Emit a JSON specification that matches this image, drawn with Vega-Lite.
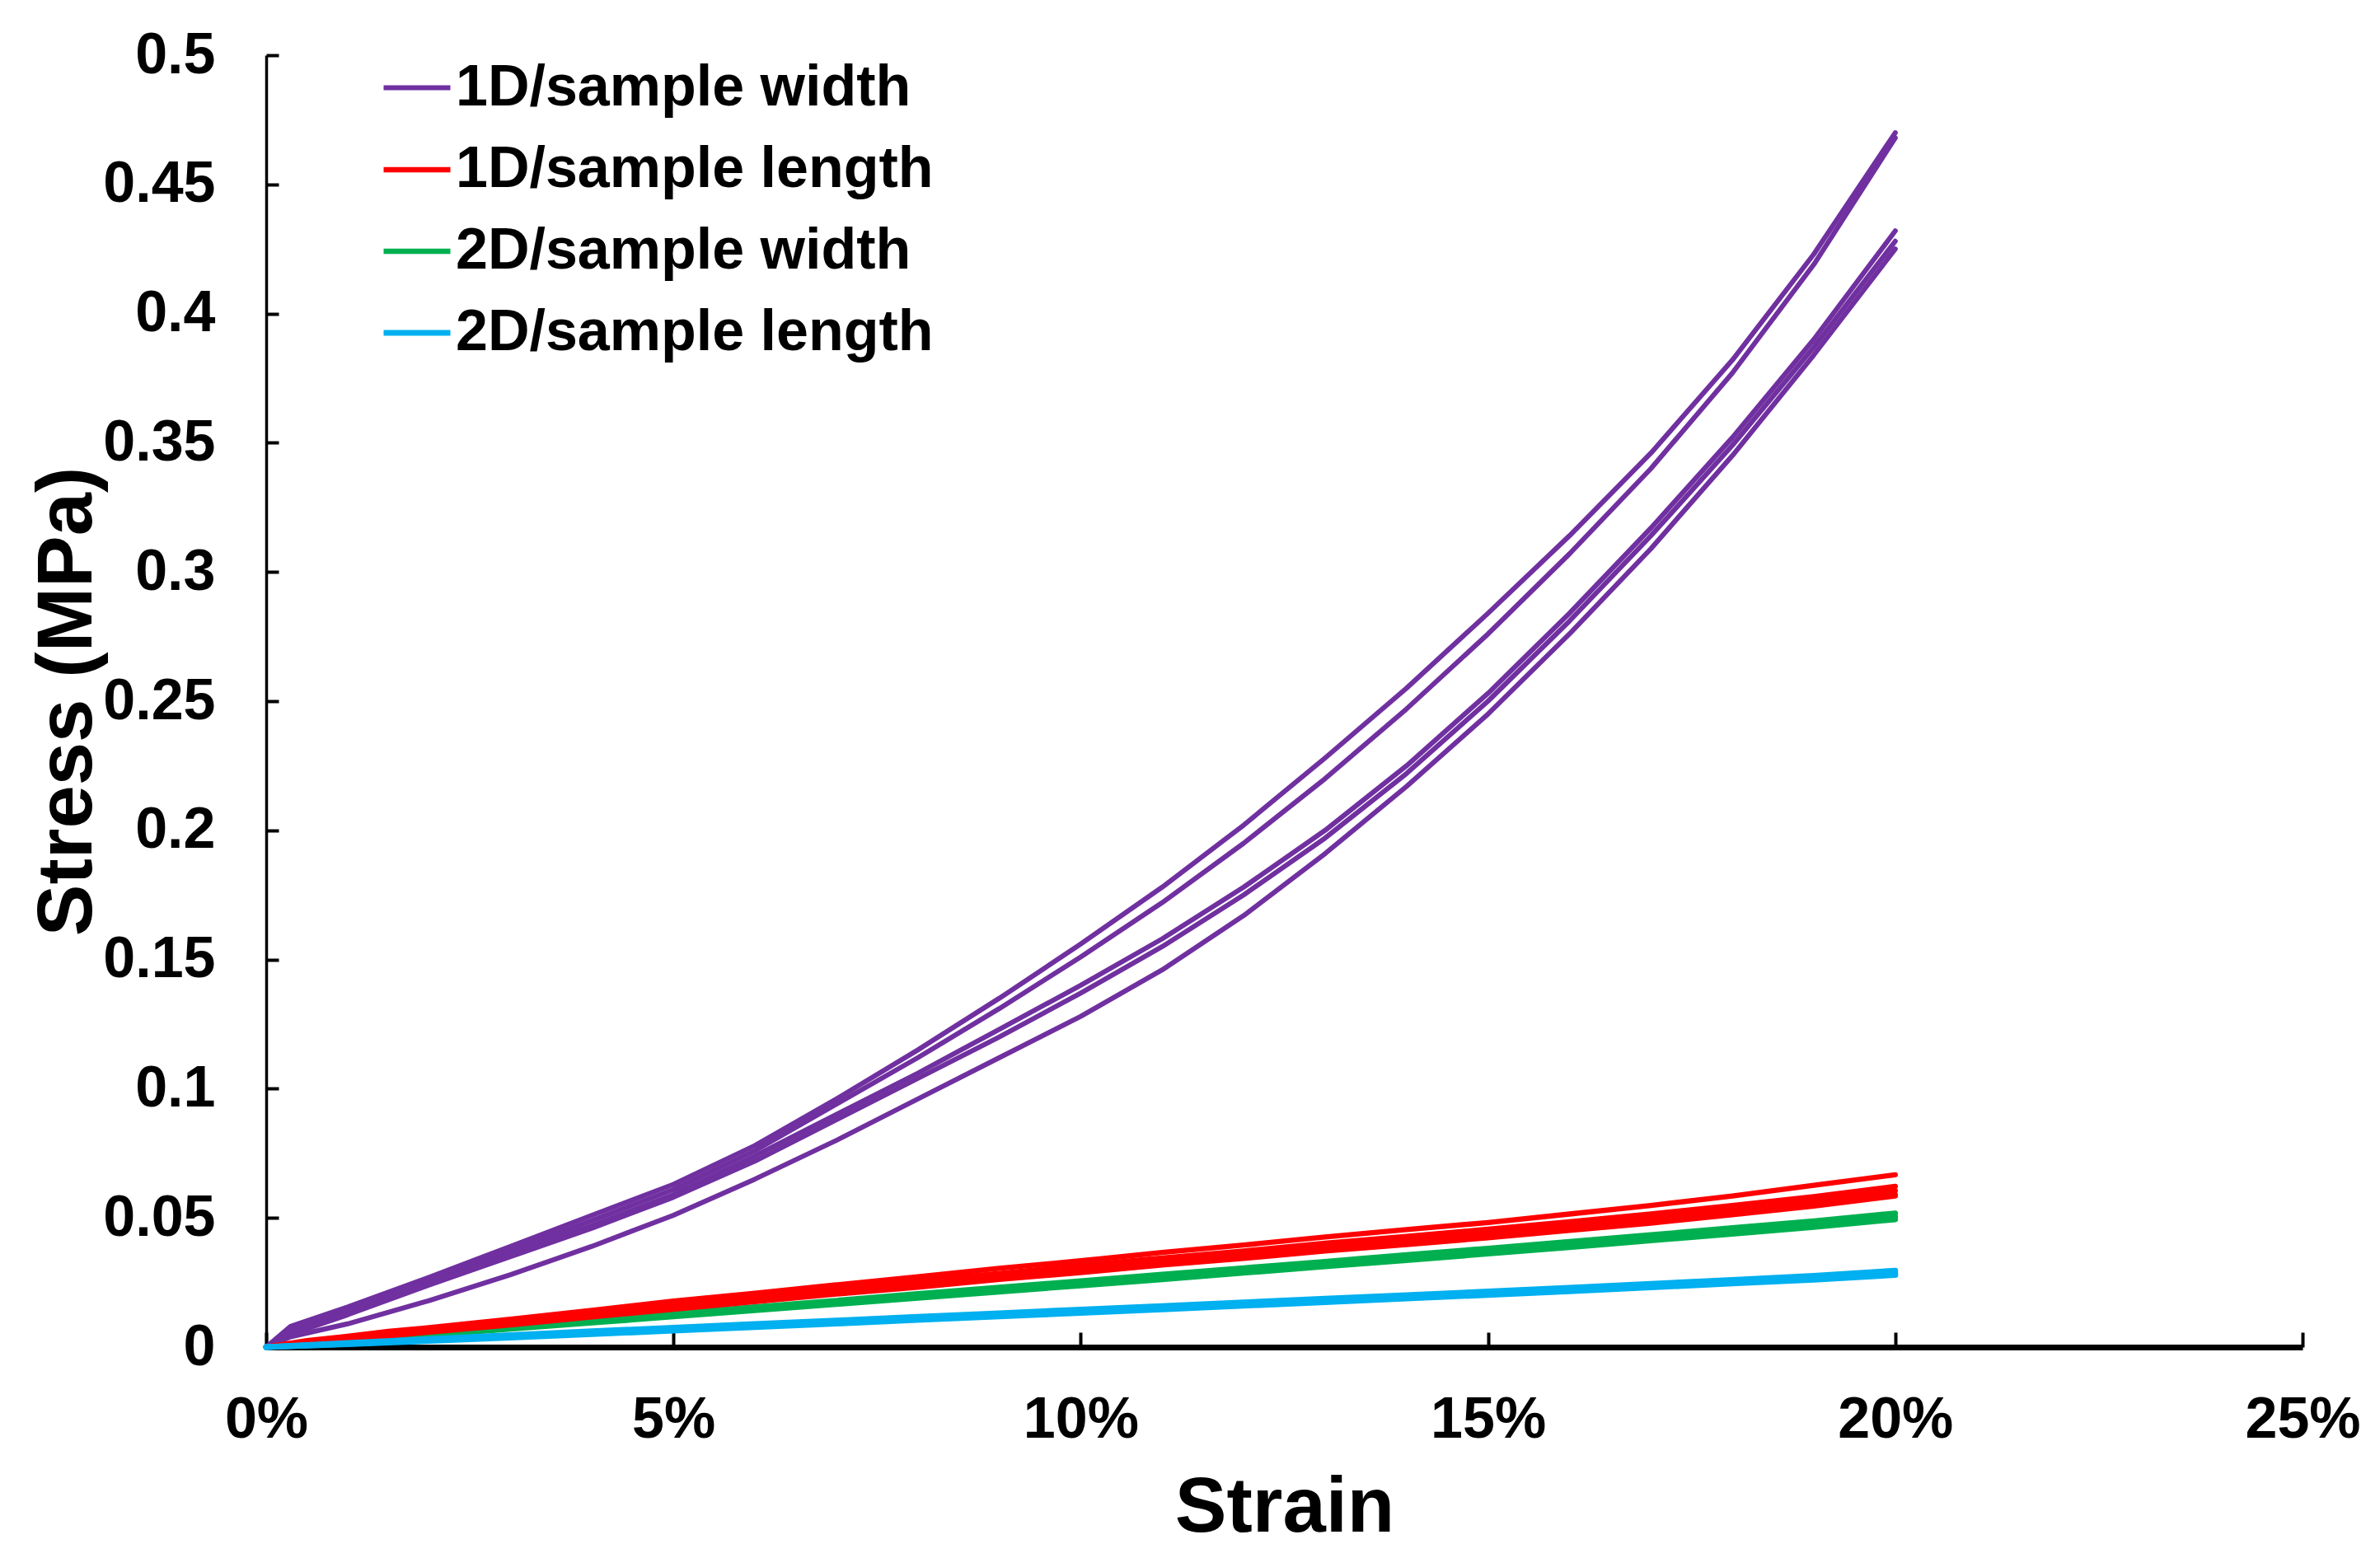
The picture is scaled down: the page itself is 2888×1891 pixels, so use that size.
{
  "$schema": "https://vega.github.io/schema/vega-lite/v6.json",
  "width": 2471,
  "height": 1568,
  "autosize": {"type": "none"},
  "padding": {"left": 323, "top": 67, "right": 94, "bottom": 256},
  "background": "white",
  "config": {"font": "Liberation Sans", "view": {"stroke": null}},
  "datasets": {
    "curves": [
      {"g":"1D/sample width","c":"P1","x":0,"y":0},{"g":"1D/sample width","c":"P1","x":0.003,"y":0.008},{"g":"1D/sample width","c":"P1","x":0.01,"y":0.0155},{"g":"1D/sample width","c":"P1","x":0.02,"y":0.027},{"g":"1D/sample width","c":"P1","x":0.03,"y":0.039},{"g":"1D/sample width","c":"P1","x":0.04,"y":0.051},{"g":"1D/sample width","c":"P1","x":0.05,"y":0.063},{"g":"1D/sample width","c":"P1","x":0.06,"y":0.078},{"g":"1D/sample width","c":"P1","x":0.07,"y":0.096},{"g":"1D/sample width","c":"P1","x":0.08,"y":0.115},{"g":"1D/sample width","c":"P1","x":0.09,"y":0.135},{"g":"1D/sample width","c":"P1","x":0.10,"y":0.156},{"g":"1D/sample width","c":"P1","x":0.11,"y":0.178},{"g":"1D/sample width","c":"P1","x":0.12,"y":0.202},{"g":"1D/sample width","c":"P1","x":0.13,"y":0.228},{"g":"1D/sample width","c":"P1","x":0.14,"y":0.255},{"g":"1D/sample width","c":"P1","x":0.15,"y":0.284},{"g":"1D/sample width","c":"P1","x":0.16,"y":0.314},{"g":"1D/sample width","c":"P1","x":0.17,"y":0.346},{"g":"1D/sample width","c":"P1","x":0.18,"y":0.382},{"g":"1D/sample width","c":"P1","x":0.19,"y":0.423},{"g":"1D/sample width","c":"P1","x":0.20,"y":0.470},
      {"g":"1D/sample width","c":"P2","x":0,"y":0},{"g":"1D/sample width","c":"P2","x":0.003,"y":0.007},{"g":"1D/sample width","c":"P2","x":0.01,"y":0.0145},{"g":"1D/sample width","c":"P2","x":0.02,"y":0.026},{"g":"1D/sample width","c":"P2","x":0.03,"y":0.0375},{"g":"1D/sample width","c":"P2","x":0.04,"y":0.049},{"g":"1D/sample width","c":"P2","x":0.05,"y":0.061},{"g":"1D/sample width","c":"P2","x":0.06,"y":0.076},{"g":"1D/sample width","c":"P2","x":0.07,"y":0.094},{"g":"1D/sample width","c":"P2","x":0.08,"y":0.112},{"g":"1D/sample width","c":"P2","x":0.09,"y":0.131},{"g":"1D/sample width","c":"P2","x":0.10,"y":0.151},{"g":"1D/sample width","c":"P2","x":0.11,"y":0.172},{"g":"1D/sample width","c":"P2","x":0.12,"y":0.195},{"g":"1D/sample width","c":"P2","x":0.13,"y":0.220},{"g":"1D/sample width","c":"P2","x":0.14,"y":0.247},{"g":"1D/sample width","c":"P2","x":0.15,"y":0.276},{"g":"1D/sample width","c":"P2","x":0.16,"y":0.307},{"g":"1D/sample width","c":"P2","x":0.17,"y":0.340},{"g":"1D/sample width","c":"P2","x":0.18,"y":0.377},{"g":"1D/sample width","c":"P2","x":0.19,"y":0.419},{"g":"1D/sample width","c":"P2","x":0.20,"y":0.468},
      {"g":"1D/sample width","c":"P3","x":0,"y":0},{"g":"1D/sample width","c":"P3","x":0.003,"y":0.006},{"g":"1D/sample width","c":"P3","x":0.01,"y":0.0135},{"g":"1D/sample width","c":"P3","x":0.02,"y":0.025},{"g":"1D/sample width","c":"P3","x":0.03,"y":0.036},{"g":"1D/sample width","c":"P3","x":0.04,"y":0.047},{"g":"1D/sample width","c":"P3","x":0.05,"y":0.059},{"g":"1D/sample width","c":"P3","x":0.06,"y":0.074},{"g":"1D/sample width","c":"P3","x":0.07,"y":0.090},{"g":"1D/sample width","c":"P3","x":0.08,"y":0.106},{"g":"1D/sample width","c":"P3","x":0.09,"y":0.123},{"g":"1D/sample width","c":"P3","x":0.10,"y":0.140},{"g":"1D/sample width","c":"P3","x":0.11,"y":0.158},{"g":"1D/sample width","c":"P3","x":0.12,"y":0.178},{"g":"1D/sample width","c":"P3","x":0.13,"y":0.200},{"g":"1D/sample width","c":"P3","x":0.14,"y":0.225},{"g":"1D/sample width","c":"P3","x":0.15,"y":0.253},{"g":"1D/sample width","c":"P3","x":0.16,"y":0.284},{"g":"1D/sample width","c":"P3","x":0.17,"y":0.317},{"g":"1D/sample width","c":"P3","x":0.18,"y":0.352},{"g":"1D/sample width","c":"P3","x":0.19,"y":0.390},{"g":"1D/sample width","c":"P3","x":0.20,"y":0.432},
      {"g":"1D/sample width","c":"P4","x":0,"y":0},{"g":"1D/sample width","c":"P4","x":0.003,"y":0.005},{"g":"1D/sample width","c":"P4","x":0.01,"y":0.0125},{"g":"1D/sample width","c":"P4","x":0.02,"y":0.024},{"g":"1D/sample width","c":"P4","x":0.03,"y":0.035},{"g":"1D/sample width","c":"P4","x":0.04,"y":0.046},{"g":"1D/sample width","c":"P4","x":0.05,"y":0.058},{"g":"1D/sample width","c":"P4","x":0.06,"y":0.072},{"g":"1D/sample width","c":"P4","x":0.07,"y":0.088},{"g":"1D/sample width","c":"P4","x":0.08,"y":0.104},{"g":"1D/sample width","c":"P4","x":0.09,"y":0.120},{"g":"1D/sample width","c":"P4","x":0.10,"y":0.137},{"g":"1D/sample width","c":"P4","x":0.11,"y":0.155},{"g":"1D/sample width","c":"P4","x":0.12,"y":0.175},{"g":"1D/sample width","c":"P4","x":0.13,"y":0.197},{"g":"1D/sample width","c":"P4","x":0.14,"y":0.222},{"g":"1D/sample width","c":"P4","x":0.15,"y":0.250},{"g":"1D/sample width","c":"P4","x":0.16,"y":0.281},{"g":"1D/sample width","c":"P4","x":0.17,"y":0.314},{"g":"1D/sample width","c":"P4","x":0.18,"y":0.349},{"g":"1D/sample width","c":"P4","x":0.19,"y":0.387},{"g":"1D/sample width","c":"P4","x":0.20,"y":0.428},
      {"g":"1D/sample width","c":"P5","x":0,"y":0},{"g":"1D/sample width","c":"P5","x":0.003,"y":0.004},{"g":"1D/sample width","c":"P5","x":0.01,"y":0.009},{"g":"1D/sample width","c":"P5","x":0.02,"y":0.018},{"g":"1D/sample width","c":"P5","x":0.03,"y":0.028},{"g":"1D/sample width","c":"P5","x":0.04,"y":0.039},{"g":"1D/sample width","c":"P5","x":0.05,"y":0.051},{"g":"1D/sample width","c":"P5","x":0.06,"y":0.065},{"g":"1D/sample width","c":"P5","x":0.07,"y":0.080},{"g":"1D/sample width","c":"P5","x":0.08,"y":0.096},{"g":"1D/sample width","c":"P5","x":0.09,"y":0.112},{"g":"1D/sample width","c":"P5","x":0.10,"y":0.128},{"g":"1D/sample width","c":"P5","x":0.11,"y":0.146},{"g":"1D/sample width","c":"P5","x":0.12,"y":0.167},{"g":"1D/sample width","c":"P5","x":0.13,"y":0.191},{"g":"1D/sample width","c":"P5","x":0.14,"y":0.217},{"g":"1D/sample width","c":"P5","x":0.15,"y":0.245},{"g":"1D/sample width","c":"P5","x":0.16,"y":0.276},{"g":"1D/sample width","c":"P5","x":0.17,"y":0.309},{"g":"1D/sample width","c":"P5","x":0.18,"y":0.345},{"g":"1D/sample width","c":"P5","x":0.19,"y":0.384},{"g":"1D/sample width","c":"P5","x":0.20,"y":0.425},

      {"g":"2D/sample width","c":"G1","x":0,"y":0},{"g":"2D/sample width","c":"G1","x":0.01,"y":0.0027},{"g":"2D/sample width","c":"G1","x":0.02,"y":0.0053},{"g":"2D/sample width","c":"G1","x":0.03,"y":0.0079},{"g":"2D/sample width","c":"G1","x":0.04,"y":0.0105},{"g":"2D/sample width","c":"G1","x":0.05,"y":0.0130},{"g":"2D/sample width","c":"G1","x":0.06,"y":0.0155},{"g":"2D/sample width","c":"G1","x":0.07,"y":0.0180},{"g":"2D/sample width","c":"G1","x":0.08,"y":0.0206},{"g":"2D/sample width","c":"G1","x":0.09,"y":0.0231},{"g":"2D/sample width","c":"G1","x":0.10,"y":0.0256},{"g":"2D/sample width","c":"G1","x":0.11,"y":0.0281},{"g":"2D/sample width","c":"G1","x":0.12,"y":0.0306},{"g":"2D/sample width","c":"G1","x":0.13,"y":0.0331},{"g":"2D/sample width","c":"G1","x":0.14,"y":0.0357},{"g":"2D/sample width","c":"G1","x":0.15,"y":0.0382},{"g":"2D/sample width","c":"G1","x":0.16,"y":0.0408},{"g":"2D/sample width","c":"G1","x":0.17,"y":0.0434},{"g":"2D/sample width","c":"G1","x":0.18,"y":0.0461},{"g":"2D/sample width","c":"G1","x":0.19,"y":0.0488},{"g":"2D/sample width","c":"G1","x":0.20,"y":0.0518},
      {"g":"2D/sample width","c":"G2","x":0,"y":0},{"g":"2D/sample width","c":"G2","x":0.01,"y":0.0024},{"g":"2D/sample width","c":"G2","x":0.02,"y":0.0049},{"g":"2D/sample width","c":"G2","x":0.03,"y":0.0074},{"g":"2D/sample width","c":"G2","x":0.04,"y":0.0099},{"g":"2D/sample width","c":"G2","x":0.05,"y":0.0123},{"g":"2D/sample width","c":"G2","x":0.06,"y":0.0148},{"g":"2D/sample width","c":"G2","x":0.07,"y":0.0172},{"g":"2D/sample width","c":"G2","x":0.08,"y":0.0197},{"g":"2D/sample width","c":"G2","x":0.09,"y":0.0222},{"g":"2D/sample width","c":"G2","x":0.10,"y":0.0246},{"g":"2D/sample width","c":"G2","x":0.11,"y":0.0271},{"g":"2D/sample width","c":"G2","x":0.12,"y":0.0296},{"g":"2D/sample width","c":"G2","x":0.13,"y":0.0321},{"g":"2D/sample width","c":"G2","x":0.14,"y":0.0346},{"g":"2D/sample width","c":"G2","x":0.15,"y":0.0371},{"g":"2D/sample width","c":"G2","x":0.16,"y":0.0397},{"g":"2D/sample width","c":"G2","x":0.17,"y":0.0423},{"g":"2D/sample width","c":"G2","x":0.18,"y":0.0449},{"g":"2D/sample width","c":"G2","x":0.19,"y":0.0476},{"g":"2D/sample width","c":"G2","x":0.20,"y":0.0505},
      {"g":"2D/sample width","c":"G3","x":0,"y":0},{"g":"2D/sample width","c":"G3","x":0.01,"y":0.0022},{"g":"2D/sample width","c":"G3","x":0.02,"y":0.0046},{"g":"2D/sample width","c":"G3","x":0.03,"y":0.0070},{"g":"2D/sample width","c":"G3","x":0.04,"y":0.0094},{"g":"2D/sample width","c":"G3","x":0.05,"y":0.0118},{"g":"2D/sample width","c":"G3","x":0.06,"y":0.0142},{"g":"2D/sample width","c":"G3","x":0.07,"y":0.0166},{"g":"2D/sample width","c":"G3","x":0.08,"y":0.0190},{"g":"2D/sample width","c":"G3","x":0.09,"y":0.0214},{"g":"2D/sample width","c":"G3","x":0.10,"y":0.0238},{"g":"2D/sample width","c":"G3","x":0.11,"y":0.0262},{"g":"2D/sample width","c":"G3","x":0.12,"y":0.0287},{"g":"2D/sample width","c":"G3","x":0.13,"y":0.0312},{"g":"2D/sample width","c":"G3","x":0.14,"y":0.0336},{"g":"2D/sample width","c":"G3","x":0.15,"y":0.0361},{"g":"2D/sample width","c":"G3","x":0.16,"y":0.0386},{"g":"2D/sample width","c":"G3","x":0.17,"y":0.0412},{"g":"2D/sample width","c":"G3","x":0.18,"y":0.0438},{"g":"2D/sample width","c":"G3","x":0.19,"y":0.0464},{"g":"2D/sample width","c":"G3","x":0.20,"y":0.0494},

      {"g":"1D/sample length","c":"R1","x":0,"y":0},{"g":"1D/sample length","c":"R1","x":0.005,"y":0.0025},{"g":"1D/sample length","c":"R1","x":0.01,"y":0.0042},{"g":"1D/sample length","c":"R1","x":0.015,"y":0.0061},{"g":"1D/sample length","c":"R1","x":0.02,"y":0.0075},{"g":"1D/sample length","c":"R1","x":0.03,"y":0.0108},{"g":"1D/sample length","c":"R1","x":0.04,"y":0.0142},{"g":"1D/sample length","c":"R1","x":0.05,"y":0.0178},{"g":"1D/sample length","c":"R1","x":0.06,"y":0.0208},{"g":"1D/sample length","c":"R1","x":0.07,"y":0.0241},{"g":"1D/sample length","c":"R1","x":0.08,"y":0.0272},{"g":"1D/sample length","c":"R1","x":0.09,"y":0.0305},{"g":"1D/sample length","c":"R1","x":0.10,"y":0.0334},{"g":"1D/sample length","c":"R1","x":0.11,"y":0.0366},{"g":"1D/sample length","c":"R1","x":0.12,"y":0.0395},{"g":"1D/sample length","c":"R1","x":0.13,"y":0.0426},{"g":"1D/sample length","c":"R1","x":0.14,"y":0.0455},{"g":"1D/sample length","c":"R1","x":0.15,"y":0.0482},{"g":"1D/sample length","c":"R1","x":0.16,"y":0.0515},{"g":"1D/sample length","c":"R1","x":0.17,"y":0.0548},{"g":"1D/sample length","c":"R1","x":0.18,"y":0.0585},{"g":"1D/sample length","c":"R1","x":0.19,"y":0.0626},{"g":"1D/sample length","c":"R1","x":0.20,"y":0.0667},
      {"g":"1D/sample length","c":"R2","x":0,"y":0},{"g":"1D/sample length","c":"R2","x":0.005,"y":0.0020},{"g":"1D/sample length","c":"R2","x":0.01,"y":0.0036},{"g":"1D/sample length","c":"R2","x":0.02,"y":0.0068},{"g":"1D/sample length","c":"R2","x":0.03,"y":0.0101},{"g":"1D/sample length","c":"R2","x":0.04,"y":0.0133},{"g":"1D/sample length","c":"R2","x":0.05,"y":0.0163},{"g":"1D/sample length","c":"R2","x":0.06,"y":0.0196},{"g":"1D/sample length","c":"R2","x":0.07,"y":0.0226},{"g":"1D/sample length","c":"R2","x":0.08,"y":0.0257},{"g":"1D/sample length","c":"R2","x":0.09,"y":0.0285},{"g":"1D/sample length","c":"R2","x":0.10,"y":0.0316},{"g":"1D/sample length","c":"R2","x":0.11,"y":0.0345},{"g":"1D/sample length","c":"R2","x":0.12,"y":0.0372},{"g":"1D/sample length","c":"R2","x":0.13,"y":0.0402},{"g":"1D/sample length","c":"R2","x":0.14,"y":0.0428},{"g":"1D/sample length","c":"R2","x":0.15,"y":0.0456},{"g":"1D/sample length","c":"R2","x":0.16,"y":0.0485},{"g":"1D/sample length","c":"R2","x":0.17,"y":0.0515},{"g":"1D/sample length","c":"R2","x":0.18,"y":0.0548},{"g":"1D/sample length","c":"R2","x":0.19,"y":0.0582},{"g":"1D/sample length","c":"R2","x":0.20,"y":0.0622},
      {"g":"1D/sample length","c":"R3","x":0,"y":0},{"g":"1D/sample length","c":"R3","x":0.005,"y":0.0018},{"g":"1D/sample length","c":"R3","x":0.01,"y":0.0033},{"g":"1D/sample length","c":"R3","x":0.02,"y":0.0064},{"g":"1D/sample length","c":"R3","x":0.03,"y":0.0095},{"g":"1D/sample length","c":"R3","x":0.04,"y":0.0126},{"g":"1D/sample length","c":"R3","x":0.05,"y":0.0157},{"g":"1D/sample length","c":"R3","x":0.06,"y":0.0188},{"g":"1D/sample length","c":"R3","x":0.07,"y":0.0218},{"g":"1D/sample length","c":"R3","x":0.08,"y":0.0246},{"g":"1D/sample length","c":"R3","x":0.09,"y":0.0277},{"g":"1D/sample length","c":"R3","x":0.10,"y":0.0304},{"g":"1D/sample length","c":"R3","x":0.11,"y":0.0333},{"g":"1D/sample length","c":"R3","x":0.12,"y":0.0360},{"g":"1D/sample length","c":"R3","x":0.13,"y":0.0388},{"g":"1D/sample length","c":"R3","x":0.14,"y":0.0415},{"g":"1D/sample length","c":"R3","x":0.15,"y":0.0440},{"g":"1D/sample length","c":"R3","x":0.16,"y":0.0470},{"g":"1D/sample length","c":"R3","x":0.17,"y":0.0498},{"g":"1D/sample length","c":"R3","x":0.18,"y":0.0530},{"g":"1D/sample length","c":"R3","x":0.19,"y":0.0565},{"g":"1D/sample length","c":"R3","x":0.20,"y":0.0605},
      {"g":"1D/sample length","c":"R4","x":0,"y":0},{"g":"1D/sample length","c":"R4","x":0.005,"y":0.0016},{"g":"1D/sample length","c":"R4","x":0.01,"y":0.0030},{"g":"1D/sample length","c":"R4","x":0.02,"y":0.0060},{"g":"1D/sample length","c":"R4","x":0.03,"y":0.0090},{"g":"1D/sample length","c":"R4","x":0.04,"y":0.0121},{"g":"1D/sample length","c":"R4","x":0.05,"y":0.0150},{"g":"1D/sample length","c":"R4","x":0.06,"y":0.0181},{"g":"1D/sample length","c":"R4","x":0.07,"y":0.0210},{"g":"1D/sample length","c":"R4","x":0.08,"y":0.0240},{"g":"1D/sample length","c":"R4","x":0.09,"y":0.0268},{"g":"1D/sample length","c":"R4","x":0.10,"y":0.0296},{"g":"1D/sample length","c":"R4","x":0.11,"y":0.0324},{"g":"1D/sample length","c":"R4","x":0.12,"y":0.0350},{"g":"1D/sample length","c":"R4","x":0.13,"y":0.0377},{"g":"1D/sample length","c":"R4","x":0.14,"y":0.0403},{"g":"1D/sample length","c":"R4","x":0.15,"y":0.0428},{"g":"1D/sample length","c":"R4","x":0.16,"y":0.0457},{"g":"1D/sample length","c":"R4","x":0.17,"y":0.0485},{"g":"1D/sample length","c":"R4","x":0.18,"y":0.0517},{"g":"1D/sample length","c":"R4","x":0.19,"y":0.0552},{"g":"1D/sample length","c":"R4","x":0.20,"y":0.0590},
      {"g":"1D/sample length","c":"R5","x":0,"y":0},{"g":"1D/sample length","c":"R5","x":0.005,"y":0.0015},{"g":"1D/sample length","c":"R5","x":0.01,"y":0.0028},{"g":"1D/sample length","c":"R5","x":0.02,"y":0.0058},{"g":"1D/sample length","c":"R5","x":0.03,"y":0.0086},{"g":"1D/sample length","c":"R5","x":0.04,"y":0.0117},{"g":"1D/sample length","c":"R5","x":0.05,"y":0.0146},{"g":"1D/sample length","c":"R5","x":0.06,"y":0.0176},{"g":"1D/sample length","c":"R5","x":0.07,"y":0.0205},{"g":"1D/sample length","c":"R5","x":0.08,"y":0.0232},{"g":"1D/sample length","c":"R5","x":0.09,"y":0.0262},{"g":"1D/sample length","c":"R5","x":0.10,"y":0.0288},{"g":"1D/sample length","c":"R5","x":0.11,"y":0.0318},{"g":"1D/sample length","c":"R5","x":0.12,"y":0.0343},{"g":"1D/sample length","c":"R5","x":0.13,"y":0.0372},{"g":"1D/sample length","c":"R5","x":0.14,"y":0.0397},{"g":"1D/sample length","c":"R5","x":0.15,"y":0.0423},{"g":"1D/sample length","c":"R5","x":0.16,"y":0.0452},{"g":"1D/sample length","c":"R5","x":0.17,"y":0.0480},{"g":"1D/sample length","c":"R5","x":0.18,"y":0.0512},{"g":"1D/sample length","c":"R5","x":0.19,"y":0.0546},{"g":"1D/sample length","c":"R5","x":0.20,"y":0.0585},

      {"g":"2D/sample length","c":"B1","x":0,"y":0},{"g":"2D/sample length","c":"B1","x":0.01,"y":0.0016},{"g":"2D/sample length","c":"B1","x":0.02,"y":0.0031},{"g":"2D/sample length","c":"B1","x":0.03,"y":0.0046},{"g":"2D/sample length","c":"B1","x":0.04,"y":0.0061},{"g":"2D/sample length","c":"B1","x":0.05,"y":0.0075},{"g":"2D/sample length","c":"B1","x":0.06,"y":0.0089},{"g":"2D/sample length","c":"B1","x":0.07,"y":0.0103},{"g":"2D/sample length","c":"B1","x":0.08,"y":0.0117},{"g":"2D/sample length","c":"B1","x":0.09,"y":0.0131},{"g":"2D/sample length","c":"B1","x":0.10,"y":0.0145},{"g":"2D/sample length","c":"B1","x":0.11,"y":0.0159},{"g":"2D/sample length","c":"B1","x":0.12,"y":0.0173},{"g":"2D/sample length","c":"B1","x":0.13,"y":0.0187},{"g":"2D/sample length","c":"B1","x":0.14,"y":0.0201},{"g":"2D/sample length","c":"B1","x":0.15,"y":0.0215},{"g":"2D/sample length","c":"B1","x":0.16,"y":0.0230},{"g":"2D/sample length","c":"B1","x":0.17,"y":0.0245},{"g":"2D/sample length","c":"B1","x":0.18,"y":0.0260},{"g":"2D/sample length","c":"B1","x":0.19,"y":0.0276},{"g":"2D/sample length","c":"B1","x":0.20,"y":0.0296},
      {"g":"2D/sample length","c":"B2","x":0,"y":0},{"g":"2D/sample length","c":"B2","x":0.01,"y":0.0013},{"g":"2D/sample length","c":"B2","x":0.02,"y":0.0027},{"g":"2D/sample length","c":"B2","x":0.03,"y":0.0041},{"g":"2D/sample length","c":"B2","x":0.04,"y":0.0055},{"g":"2D/sample length","c":"B2","x":0.05,"y":0.0069},{"g":"2D/sample length","c":"B2","x":0.06,"y":0.0083},{"g":"2D/sample length","c":"B2","x":0.07,"y":0.0097},{"g":"2D/sample length","c":"B2","x":0.08,"y":0.0111},{"g":"2D/sample length","c":"B2","x":0.09,"y":0.0125},{"g":"2D/sample length","c":"B2","x":0.10,"y":0.0139},{"g":"2D/sample length","c":"B2","x":0.11,"y":0.0153},{"g":"2D/sample length","c":"B2","x":0.12,"y":0.0167},{"g":"2D/sample length","c":"B2","x":0.13,"y":0.0181},{"g":"2D/sample length","c":"B2","x":0.14,"y":0.0195},{"g":"2D/sample length","c":"B2","x":0.15,"y":0.0209},{"g":"2D/sample length","c":"B2","x":0.16,"y":0.0223},{"g":"2D/sample length","c":"B2","x":0.17,"y":0.0238},{"g":"2D/sample length","c":"B2","x":0.18,"y":0.0253},{"g":"2D/sample length","c":"B2","x":0.19,"y":0.0268},{"g":"2D/sample length","c":"B2","x":0.20,"y":0.0287},
      {"g":"2D/sample length","c":"B3","x":0,"y":0},{"g":"2D/sample length","c":"B3","x":0.01,"y":0.0011},{"g":"2D/sample length","c":"B3","x":0.02,"y":0.0024},{"g":"2D/sample length","c":"B3","x":0.03,"y":0.0037},{"g":"2D/sample length","c":"B3","x":0.04,"y":0.0050},{"g":"2D/sample length","c":"B3","x":0.05,"y":0.0064},{"g":"2D/sample length","c":"B3","x":0.06,"y":0.0077},{"g":"2D/sample length","c":"B3","x":0.07,"y":0.0091},{"g":"2D/sample length","c":"B3","x":0.08,"y":0.0105},{"g":"2D/sample length","c":"B3","x":0.09,"y":0.0119},{"g":"2D/sample length","c":"B3","x":0.10,"y":0.0132},{"g":"2D/sample length","c":"B3","x":0.11,"y":0.0146},{"g":"2D/sample length","c":"B3","x":0.12,"y":0.0160},{"g":"2D/sample length","c":"B3","x":0.13,"y":0.0174},{"g":"2D/sample length","c":"B3","x":0.14,"y":0.0188},{"g":"2D/sample length","c":"B3","x":0.15,"y":0.0202},{"g":"2D/sample length","c":"B3","x":0.16,"y":0.0216},{"g":"2D/sample length","c":"B3","x":0.17,"y":0.0231},{"g":"2D/sample length","c":"B3","x":0.18,"y":0.0246},{"g":"2D/sample length","c":"B3","x":0.19,"y":0.0261},{"g":"2D/sample length","c":"B3","x":0.20,"y":0.0279}
    ]
  },
  "data": {"name": "curves"},
  "mark": {"type": "line", "strokeJoin": "round", "strokeCap": "round", "interpolate": "linear"},
  "encoding": {
    "x": {
      "field": "x", "type": "quantitative",
      "scale": {"domain": [0, 0.25], "nice": false, "zero": true},
      "axis": {
        "values": [0, 0.05, 0.1, 0.15, 0.2, 0.25],
        "format": ".0%",
        "grid": false,
        "title": "Strain",
        "titleFont": "Liberation Sans", "titleFontSize": 94, "titleFontWeight": "bold", "titleColor": "black",
        "titleY": 223, "titleBaseline": "alphabetic",
        "labelFont": "Liberation Sans", "labelFontSize": 70, "labelFontWeight": "bold", "labelColor": "black",
        "labelPadding": 72, "labelFlush": false, "labelOverlap": false,
        "domainColor": "black", "domainWidth": 7,
        "tickColor": "black", "tickWidth": 4, "tickSize": -18
      }
    },
    "y": {
      "field": "y", "type": "quantitative",
      "scale": {"domain": [0, 0.5], "nice": false},
      "axis": {
        "values": [0, 0.05, 0.1, 0.15, 0.2, 0.25, 0.3, 0.35, 0.4, 0.45, 0.5],
        "format": "~g",
        "grid": false,
        "title": "Stress (MPa)",
        "titleFont": "Liberation Sans", "titleFontSize": 94, "titleFontWeight": "bold", "titleColor": "black",
        "titleAngle": -90, "titleX": -213, "titleY": 784, "titleBaseline": "alphabetic", "titleAlign": "center",
        "labelFont": "Liberation Sans", "labelFontSize": 70, "labelFontWeight": "bold", "labelColor": "black",
        "labelPadding": 77, "labelFlush": false, "labelOverlap": false,
        "domainColor": "black", "domainWidth": 3.5,
        "tickColor": "black", "tickWidth": 4, "tickSize": -15
      }
    },
    "color": {
      "field": "g", "type": "nominal",
      "scale": {
        "domain": ["1D/sample width", "1D/sample length", "2D/sample width", "2D/sample length"],
        "range": ["#7030A0", "#FF0000", "#00B050", "#00B0F0"]
      },
      "legend": {
        "orient": "none", "legendX": 139, "legendY": -4,
        "title": null, "padding": 0,
        "symbolType": "stroke", "symbolSize": 6561, "symbolStrokeWidth": 6,
        "labelFont": "Liberation Sans", "labelFontSize": 70, "labelFontWeight": "bold", "labelColor": "black",
        "labelOffset": 3, "labelLimit": 2000, "rowPadding": 20
      }
    },
    "strokeWidth": {
      "field": "g", "type": "nominal",
      "scale": {
        "domain": ["1D/sample width", "1D/sample length", "2D/sample width", "2D/sample length"],
        "range": [6, 7, 11, 12]
      },
      "legend": null
    },
    "detail": {"field": "c"}
  }
}
